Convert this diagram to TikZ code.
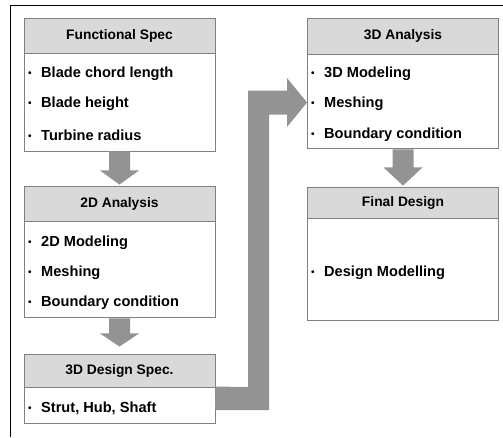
\documentclass[tikz,border=0pt]{standalone}
\usepackage{fontspec}
\setmainfont{Liberation Sans}
\usetikzlibrary{calc}
\definecolor{hdrfill}{HTML}{D9D9D9}
\definecolor{edge}{HTML}{808080}
\definecolor{arrfill}{HTML}{939393}
\tikzset{
  hdr/.style={draw=edge, line width=0.9pt, fill=hdrfill, minimum width=191pt, inner sep=0pt, font=\fontsize{13.8}{16}\selectfont\bfseries},
  bodybox/.style={draw=edge, line width=0.9pt, fill=white, minimum width=191pt, inner sep=0pt},
  item/.style={anchor=west, inner sep=0pt, font=\fontsize{14.6}{17}\selectfont\bfseries},
  fatarrow/.style={fill=arrfill, draw=none},
}
\newcommand{\bul}{\makebox[13pt][l]{\raisebox{0.8pt}{\fontsize{10}{10}\selectfont •}}}
\begin{document}
\begin{tikzpicture}[x=1pt,y=-1pt]
\useasboundingbox (0,0) rectangle (503,437);
\fill[white] (0,0) rectangle (503,437);
\draw[line width=1pt] (10.5,437) -- (10.5,5.5) -- (503,5.5);

% left column
\node[bodybox, minimum height=98pt] (fsb) at (119.5,102) {};
\node[hdr, minimum height=35pt] (fsh) at (119.5,35.5) {Functional Spec};
\node[item] (fs1) at (28,74) {\bul Blade chord length};
\node[item] (fs2) at (28,104) {\bul Blade height};
\node[item] (fs3) at (28,135) {\bul Turbine radius};

\node[bodybox, minimum height=96pt] (tdb) at (119.5,269) {};
\node[hdr, minimum height=35pt] (tdh) at (119.5,203.5) {2D Analysis};
\node[item] (td1) at (28,243) {\bul 2D Modeling};
\node[item] (td2) at (28,273) {\bul Meshing};
\node[item] (td3) at (28,303) {\bul Boundary condition};

\node[bodybox, minimum height=36pt] (dsb) at (119.5,405) {};
\node[hdr, minimum height=33pt] (dsh) at (119.5,370.5) {3D Design Spec.};
\node[item] (ds1) at (28,408) {\bul Strut, Hub, Shaft};

% right column
\node[bodybox, minimum height=94pt] (tab) at (403,101) {};
\node[hdr, minimum height=36pt] (tah) at (403,36) {3D Analysis};
\node[item] (ta1) at (311,74) {\bul 3D Modeling};
\node[item] (ta2) at (311,104) {\bul Meshing};
\node[item] (ta3) at (311,135) {\bul Boundary condition};

\node[bodybox, minimum height=102pt] (fdb) at (403,269) {};
\node[hdr, minimum height=31pt] (fdh) at (403,202.5) {Final Design};
\node[item] (fd1) at (311,273) {\bul Design Modelling};

% down arrows
\fill[fatarrow] ($(fsb.south)+(-10.5,0)$) -- ($(fsb.south)+(10.5,0)$) -- ($(fsb.south)+(10.5,19)$) -- ($(fsb.south)+(19.5,19)$) -- ($(tdh.north)+(0,-1)$) -- ($(fsb.south)+(-19.5,19)$) -- ($(fsb.south)+(-10.5,19)$) -- cycle;
\fill[fatarrow] ($(tdb.south)+(-10.5,1)$) -- ($(tdb.south)+(10.5,1)$) -- ($(tdb.south)+(10.5,16)$) -- ($(tdb.south)+(19.5,16)$) -- ($(dsh.north)+(0,-7)$) -- ($(tdb.south)+(-19.5,16)$) -- ($(tdb.south)+(-10.5,16)$) -- cycle;
\fill[fatarrow] ($(tab.south)+(-10.5,1)$) -- ($(tab.south)+(10.5,1)$) -- ($(tab.south)+(10.5,19)$) -- ($(tab.south)+(19.5,19)$) -- ($(fdh.north)+(0,-1)$) -- ($(tab.south)+(-19.5,19)$) -- ($(tab.south)+(-10.5,19)$) -- cycle;

% elbow arrow
\coordinate (tip) at ($(tab.west)+(0,1.5)$);
\fill[fatarrow] (dsb.north east) -- (248,387) -- (248,90.5) -- (287,90.5) -- (287,78) -- (tip) -- (287,127) -- (287,114.5) -- (269,114.5) -- (269,410) -- (215,410) -- cycle;
\end{tikzpicture}
\end{document}
